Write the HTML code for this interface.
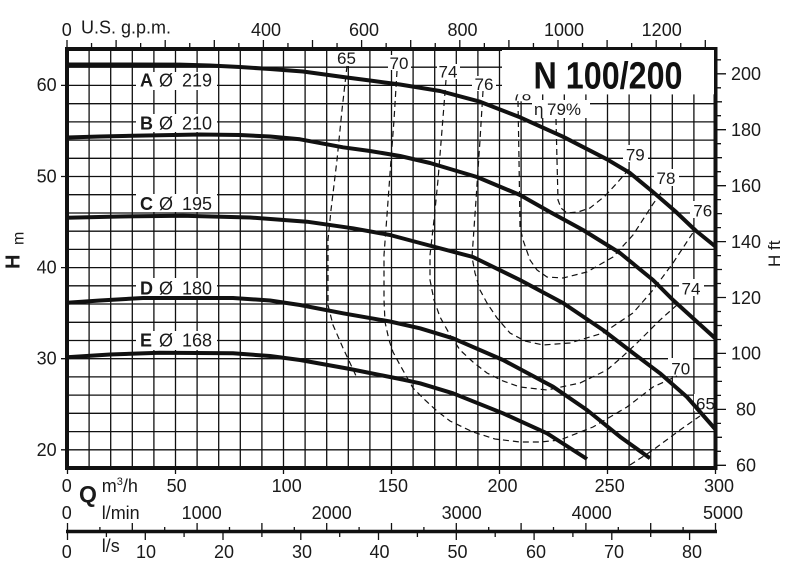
<!DOCTYPE html>
<html><head><meta charset="utf-8"><style>
html,body{margin:0;padding:0;background:#fff;}
svg{display:block;font-family:"Liberation Sans",Arial,sans-serif;}
</style></head><body>
<svg width="795" height="570" viewBox="0 0 795 570" xmlns="http://www.w3.org/2000/svg">
<rect width="795" height="570" fill="#fff"/>
<!-- grid -->
<path stroke="#111" stroke-width="1.3" fill="none" d="
M89.1 49V468 M110.7 49V468 M132.3 49V468 M153.9 49V468 M175.5 49V468 M197.1 49V468 M218.7 49V468 M240.3 49V468 M261.9 49V468 M283.5 49V468 M305.1 49V468 M326.7 49V468 M348.3 49V468 M369.9 49V468 M391.5 49V468 M413.1 49V468 M434.7 49V468 M456.3 49V468 M477.9 49V468 M499.5 49V468 M521.1 49V468 M542.7 49V468 M564.3 49V468 M585.9 49V468 M607.5 49V468 M629.1 49V468 M650.7 49V468 M672.3 49V468 M693.9 49V468
M67 67.2H715 M67 85.4H715 M67 103.7H715 M67 121.9H715 M67 140.1H715 M67 158.3H715 M67 176.5H715 M67 194.7H715 M67 213H715 M67 231.2H715 M67 249.4H715 M67 267.6H715 M67 285.8H715 M67 304H715 M67 322.3H715 M67 340.5H715 M67 358.7H715 M67 376.9H715 M67 395.1H715 M67 413.3H715 M67 431.6H715 M67 449.8H715"/>
<!-- white label backgrounds -->
<g fill="#fff">
<rect x="502" y="50" width="212" height="44.3"/>
<rect x="136" y="72" width="81" height="18"/>
<rect x="136" y="114" width="81" height="18"/>
<rect x="136" y="194" width="81" height="18"/>
<rect x="136" y="278" width="81" height="19"/>
<rect x="136" y="331" width="81" height="19"/>
<rect x="335" y="51" width="23" height="15"/>
<rect x="388" y="55" width="23" height="15"/>
<rect x="437" y="64" width="23" height="15"/>
<rect x="472" y="76" width="24" height="15"/>
<rect x="509" y="94.3" width="25" height="7"/>
<rect x="532" y="100" width="58" height="18"/>
<rect x="623" y="145" width="25" height="17"/>
<rect x="654" y="169" width="25" height="17"/>
<rect x="690" y="201" width="25" height="17"/>
<rect x="679" y="279" width="25" height="17"/>
<rect x="668" y="358" width="25" height="18"/>
<rect x="694" y="394" width="21" height="17"/>
</g>
<!-- efficiency curves -->
<g fill="none" stroke="#111" stroke-width="1.2" stroke-dasharray="6 4">
<polyline points="347,66 342,110 337,160 331,210 328,240 328,305 333,325 343,348 357,378"/>
<polyline points="630,465 653,450 680,430 700,416"/>
<polyline points="397,71 394,120 391,160 387,215 384,255 384,300 385,322 389,340 393,352 400,365 413,388 425,400 437,411 450,421 473,432 495,439 520,442 540,442 560,440 593,427 627,407 653,387 677,376"/>
<polyline points="446,80 442,130 438,180 434,220 430,255 430,280 434,300 440,317 450,335 460,350 473,362 487,373 503,381 520,387 547,390 580,383 607,370 622,357 637,343 660,320 677,305"/>
<polyline points="483,91 480,140 476,200 472,257 475,273 480,290 487,303 497,318 510,333 525,341 543,345 570,343 603,333 633,313 653,290 673,263 696,228"/>
<polyline points="518,101 519,160 520,227 523,240 530,260 537,270 547,277 563,278 587,272 613,257 633,235 653,204 663,190"/>
<polyline points="556,119 557,160 558,200 561,208 567,213 578,212 590,208 605,196 617,183 630,168"/>
</g>
<!-- pump curves -->
<g fill="none" stroke="#111" stroke-width="4" stroke-linejoin="round">
<polyline points="67,64.5 120,64.5 180,64.6 210,65.5 240,67 270,69 303,71.5 343,77 370,80.5 400,84.5 440,91 480,101.7 520,117.3 563,136.7 607,159.3 630,173 653,192 675,211 695,230 716,247"/>
<polyline points="67,137.5 100,136.5 133,135.7 200,134.5 240,135 270,136.5 300,139.3 343,147.3 370,151 400,156 430,163 477,177 520,195 550,212 583,230 620,253 653,280 673,300 695,320 716,339"/>
<polyline points="67,217.7 120,216.5 183,215.7 250,217.5 307,221.7 353,228.3 390,235 420,243 473,257 520,280 563,303 603,330 633,353 660,373.3 687,397 716,430"/>
<polyline points="67,302.7 100,300.5 143,298 233,298 270,300.5 300,305 343,313.3 390,321.5 420,328.3 453,338.3 503,360 553,386.7 587,410 620,436.7 650,458.3"/>
<polyline points="67,357.3 110,354.5 160,352.7 233,353.3 270,356 300,360 350,369 400,379 420,383.3 453,393.3 503,413.3 547,433.3 587,459"/>
</g>
<!-- frame -->
<rect x="67" y="49" width="648.5" height="419" fill="none" stroke="#111" stroke-width="4"/>
<!-- top ticks (gpm) -->
<path stroke="#111" stroke-width="1.3" fill="none" d="
M67 40V47 M91.55 43V47 M116.1 40V47 M140.65 43V47 M165.2 40V47 M189.75 43V47 M214.3 40V47 M238.85 43V47 M263.4 40V47 M287.95 43V47 M312.5 40V47 M337.05 43V47 M361.6 40V47 M386.15 43V47 M410.7 40V47 M435.25 43V47 M459.8 40V47 M484.35 43V47 M508.9 40V47 M533.45 43V47 M558 40V47 M582.55 43V47 M607.1 40V47 M631.65 43V47 M656.2 40V47 M680.75 43V47 M705.3 40V47"/>
<!-- left ticks -->
<path stroke="#111" stroke-width="1.3" d="M61 85.4H66 M61 176.5H66 M61 267.6H66 M61 358.7H66 M61 449.8H66"/>
<!-- right ticks (ft) -->
<path stroke="#111" stroke-width="1.3" d="
M717 465.3H726 M717 451.3H721 M717 437.3H722 M717 423.4H721 M717 409.4H726 M717 395.4H721 M717 381.4H722 M717 367.4H721 M717 353.4H726 M717 339.5H721 M717 325.5H722 M717 311.5H721 M717 297.5H726 M717 283.5H721 M717 269.5H722 M717 255.6H721 M717 241.6H726 M717 227.6H721 M717 213.6H722 M717 199.6H721 M717 185.7H726 M717 171.7H721 M717 157.7H722 M717 143.7H721 M717 129.7H726 M717 115.7H721 M717 101.8H722 M717 87.8H721 M717 73.8H726 M717 59.8H721"/>
<!-- bottom frame ticks -->
<path stroke="#111" stroke-width="1.3" d="M67.5 470V474 M175.5 470V474 M283.5 470V474 M391.5 470V474 M499.5 470V474 M607.5 470V474 M715.5 470V474"/>
<!-- lower axis -->
<line x1="66" y1="531.5" x2="717" y2="531.5" stroke="#111" stroke-width="3.5"/>
<path stroke="#111" stroke-width="1.3" d="
M67.5 523V531 M99.9 527V531 M132.3 523V531 M164.7 527V531 M197.1 523V531 M229.5 527V531 M261.9 523V531 M294.3 527V531 M326.7 523V531 M359.1 527V531 M391.5 523V531 M423.9 527V531 M456.3 523V531 M488.7 527V531 M521.1 523V531 M553.5 527V531 M585.9 523V531 M618.3 527V531 M650.7 523V531 M683.1 527V531 M715.5 523V531
M67.5 532V540 M106.4 532V537 M145.3 532V540 M184.1 532V537 M223 532V540 M261.9 532V537 M300.8 532V540 M339.7 532V537 M378.5 532V540 M417.4 532V537 M456.3 532V540 M495.2 532V537 M534.1 532V540 M572.9 532V537 M611.8 532V540 M650.7 532V537 M689.6 532V540"/>
<!-- text -->
<g fill="#1a1a1a" font-size="18">
<g text-anchor="middle">
<text x="66.7" y="36">0</text><text x="266" y="36">400</text><text x="364" y="36">600</text><text x="462.5" y="36">800</text><text x="564" y="36">1000</text><text x="661.7" y="36">1200</text>
<text x="46.7" y="91">60</text><text x="46.7" y="182.5">50</text><text x="46.7" y="273.6">40</text><text x="46.7" y="364.7">30</text><text x="46.7" y="455.8">20</text>
<text x="746" y="80">200</text><text x="746" y="136">180</text><text x="746" y="192">160</text><text x="746" y="248">140</text><text x="746" y="304">120</text><text x="746" y="359.5">100</text><text x="746" y="415.5">80</text><text x="746" y="471.5">60</text>
<text x="66.7" y="492">0</text><text x="176.7" y="492">50</text><text x="286.7" y="492">100</text><text x="393" y="492">150</text><text x="502.5" y="492">200</text><text x="609.7" y="492">250</text><text x="719" y="492">300</text>
<text x="66.7" y="519">0</text><text x="201.7" y="519">1000</text><text x="331.7" y="519">2000</text><text x="461.7" y="519">3000</text><text x="591.7" y="519">4000</text><text x="723" y="519">5000</text>
<text x="66.7" y="558">0</text><text x="146" y="558">10</text><text x="224" y="558">20</text><text x="302" y="558">30</text><text x="379.5" y="558">40</text><text x="457.5" y="558">50</text><text x="536" y="558">60</text><text x="614" y="558">70</text><text x="692" y="558">80</text>
</g>
<text x="81" y="33.5">U.S. g.p.m.</text>
<text x="79" y="502" font-size="23" font-weight="bold">Q</text>
<text x="101.7" y="492">m<tspan font-size="11" dy="-7">3</tspan><tspan dy="7">/h</tspan></text>
<text x="101.7" y="519">l/min</text>
<text x="101.7" y="552">l/s</text>
<text transform="translate(19.5,269) rotate(-90)" font-size="20" font-weight="bold">H</text>
<text transform="translate(23.5,245) rotate(-90)" font-size="16">m</text>
<text transform="translate(780,267) rotate(-90)" font-size="17">H ft</text>
<!-- curve labels -->
<text x="140" y="86.7" font-weight="bold">A</text><text x="159" y="86.7">Ø</text><text x="182" y="86.7">219</text>
<text x="140" y="129.3" font-weight="bold">B</text><text x="159" y="129.3">Ø</text><text x="182" y="129.3">210</text>
<text x="140" y="210" font-weight="bold">C</text><text x="159" y="210">Ø</text><text x="182" y="210">195</text>
<text x="140" y="294.3" font-weight="bold">D</text><text x="159" y="294.3">Ø</text><text x="182" y="294.3">180</text>
<text x="140" y="346.7" font-weight="bold">E</text><text x="159" y="346.7">Ø</text><text x="182" y="346.7">168</text>
<!-- efficiency labels -->
<g font-size="17" text-anchor="middle">
<text x="346.5" y="64">65</text><text x="399" y="69">70</text><text x="448" y="77.7">74</text><text x="484" y="90">76</text>
<text x="521.7" y="100.5">78</text>
<text x="635.3" y="160.7">79</text><text x="666" y="184">78</text><text x="702.7" y="216.7">76</text><text x="691" y="294.3">74</text><text x="680.7" y="374.3">70</text><text x="705.5" y="409.3">65</text>
</g>
<text x="534" y="115" font-size="17">η</text><text x="547" y="115" font-size="17">79%</text>
</g>
<!-- cover top of partial 78 label -->
<rect x="502" y="50" width="212" height="44.3" fill="#fff"/>
<text transform="translate(608,88.3) scale(0.85,1)" text-anchor="middle" font-size="38" font-weight="bold" fill="#111">N 100/200</text>
</svg>
</body></html>
